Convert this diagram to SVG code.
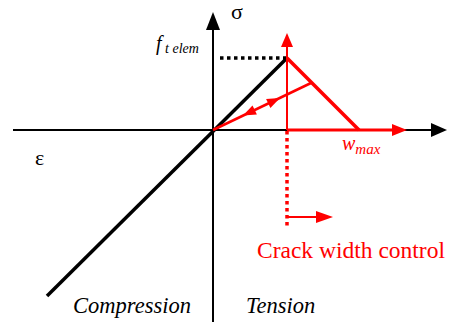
<svg xmlns="http://www.w3.org/2000/svg" width="451" height="325" viewBox="0 0 451 325">
<style>
.blk{stroke:#000;fill:none;}
.red{stroke:#ff0000;fill:none;}
.rf{fill:#ff0000;}
text{font-family:"Times New Roman",Times,"Liberation Serif","DejaVu Serif",serif;}
</style>
<rect width="451" height="325" fill="#fff"/>
<g id="connectors">
  <line class="blk" x1="213" y1="322" x2="213" y2="28" stroke-width="2"/>
  <polygon points="213,12 206,30 220,30" fill="#000"/>
  <line class="blk" x1="13" y1="130" x2="433" y2="130" stroke-width="2"/>
  <polygon points="447,130 431,123 431,137" fill="#000"/>
  <line class="blk" x1="47" y1="296" x2="287" y2="58" stroke-width="3.5"/>
  <line class="blk" x1="220" y1="58" x2="286" y2="58" stroke-width="3.5" stroke-dasharray="3.5,3.5"/>
  <line class="red" x1="287" y1="130" x2="287" y2="45" stroke-width="2"/>
  <polygon class="rf" points="287,33 281,47 293,47"/>
  <line class="red" x1="287" y1="58" x2="359" y2="130" stroke-width="3.5"/>
  <line class="red" x1="287" y1="130" x2="394" y2="130" stroke-width="3"/>
  <polygon class="rf" points="407,130 392,124 392,136"/>
  <line class="red" x1="213" y1="130" x2="311" y2="83" stroke-width="2.5"/>
  <polygon class="rf" points="280,97.9 270.4,108 266.1,99"/>
  <polygon class="rf" points="243,115.6 256.9,114.5 252.5,105.5"/>
  <line class="red" x1="287" y1="131" x2="287" y2="228" stroke-width="3.5" stroke-dasharray="3.5,3.5"/>
  <line class="red" x1="287" y1="217" x2="318" y2="217" stroke-width="2"/>
  <polygon class="rf" points="333,217 316,211 316,223"/>
</g>
<g id="sigma"><text x="231" y="19" font-size="22">σ</text></g>
<g id="epsilon"><text x="35" y="165" font-size="22">ε</text></g>
<g id="ft"><text font-style="italic" x="156" y="50" font-size="20">f<tspan font-size="14" y="53"> t elem</tspan></text></g>
<g id="wmax"><text font-style="italic" x="342" y="150" font-size="20" fill="#ff0000">w<tspan font-size="15" y="154">max</tspan></text></g>
<g id="crack"><text x="257" y="258" font-size="23.5" fill="#ff0000">Crack width control</text></g>
<g id="compression"><text font-style="italic" x="73" y="313" font-size="22.5">Compression</text></g>
<g id="tension"><text font-style="italic" x="246" y="313" font-size="22.5">Tension</text></g>
</svg>
